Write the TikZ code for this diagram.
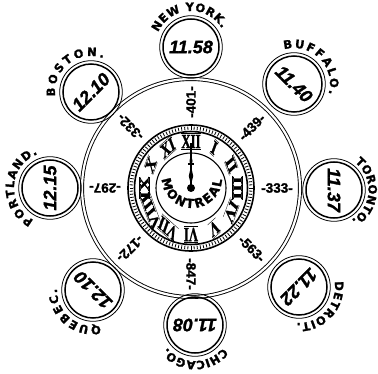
\documentclass[tikz,border=0pt]{standalone}
\usepackage{fontspec}
\setmainfont{Liberation Serif}
\setsansfont{Liberation Sans}
\newfontfamily\cityface{DejaVu Sans}[BoldFeatures={FakeBold=1.5}]
\newfontfamily\romface{Liberation Serif}[BoldFeatures={FakeBold=1.8}]
\newfontfamily\numface{Liberation Sans}[BoldFeatures={FakeBold=1.5}, BoldItalicFeatures={FakeBold=1.5}]
\usetikzlibrary{decorations.text}
\newcommand\timefnt{\numface\bfseries\itshape\fontsize{18}{18}\selectfont}
\newcommand\spokefnt{\numface\bfseries\fontsize{13.5}{13.5}\selectfont}
\newcommand\cityfnt{\cityface\bfseries\fontsize{11.5}{11.5}\selectfont}
\newcommand\romfnt{\romface\bfseries\fontsize{20}{20}\selectfont}
\newcommand\rn[1]{$\overline{\underline{\hbox{#1}}}$}
\begin{document}
\begin{tikzpicture}[x=1pt,y=1pt,
  sat/.style={circle, draw, line width=1.5pt, minimum size=56pt, inner sep=0pt, font=\timefnt},
  satouter/.style={line width=0.8pt},
  spoke/.style={font=\spokefnt, inner sep=0pt},
  numeral/.style={font=\romfnt, inner sep=0pt, xscale=0.64},
  city/.style={decorate, decoration={text along path, text align={fit to path},
    text={|\cityfnt|#1}}},
  montreal/.style={decorate, decoration={text along path, text align={fit to path},
    text={|\cityface\bfseries\fontsize{12.5}{12.5}\selectfont|#1}}}
]
\useasboundingbox (0,0) rectangle (378,373);
\coordinate (c) at (191,185);
\coordinate (mt) at (192,195);
% main double circle
\node[circle, draw, line width=0.9pt, double=white, double distance=2.2pt,
  minimum size=218pt, inner sep=0pt] (main) at (c) {};
% clock ring
\draw[line width=1.6pt] (c) circle[radius=63];
\draw[line width=1.6pt] (c) circle[radius=56.5];
\foreach \a in {0,3,...,357}
  \draw[line width=0.8pt] ([shift={(\a:58)}]c) -- ([shift={(\a:61.5)}]c);
\node[circle, draw, line width=1.1pt, minimum size=70pt, inner sep=0pt] (dial) at (c) {};
% numerals
\foreach \h/\n in {1/I,2/II,3/III,4/IV,5/V,6/VI,7/VII,8/VIII,9/IX,10/X,11/XI,12/XII}
  \node[numeral, rotate={-30*\h}] (r\h) at ([shift={({90-30*\h}:46.5)}]c) {\rn{\n}};
% hand
\coordinate (htop) at ([shift={(0,45)}]c);
\draw[line width=1.3pt] (c) -- (htop);
\fill ([shift={(0,3)}]c) -- ([shift={(2.2,12)}]c) -- ([shift={(0,22)}]c) -- ([shift={(-2.2,12)}]c) -- cycle;
\draw[line width=1.2pt] ([shift={(-3.2,24)}]c) -- ([shift={(3.2,24)}]c);
\fill ([shift={(0,27)}]c) ellipse[x radius=1.5, y radius=3.2];
\node[circle, fill, minimum size=8pt, inner sep=0pt] (hub) at (c) {};
% MONTREAL
\path[montreal=MONTREAL] ([shift={(182:30)}]mt) arc[start angle=182, end angle=357, radius=30];
% spoke distances
\node[spoke, rotate=90]   (d1) at ([shift={(90:86)}]c)   {-401-};
\node[spoke, rotate=45]   (d2) at ([shift={(45:86)}]c)   {-439-};
\node[spoke, rotate=0]    (d3) at ([shift={(0:86)}]c)    {-333-};
\node[spoke, rotate=-45]  (d4) at ([shift={(-45:86)}]c)  {-563-};
\node[spoke, rotate=-90]  (d5) at ([shift={(-90:86)}]c)  {-847-};
\node[spoke, rotate=-135] (d6) at ([shift={(-135:86)}]c) {-172-};
\node[spoke, rotate=180]  (d7) at ([shift={(180:86)}]c)  {-297-};
\node[spoke, rotate=135]  (d8) at ([shift={(135:86)}]c)  {-332-};
% satellites
\node[sat, rotate=0]    (ny)  at (191,326) {11.58};
\node[sat, rotate=-45]  (buf) at (294,289) {11.40};
\node[sat, rotate=-90]  (tor) at (334,183) {11.37};
\node[sat, rotate=-135] (det) at (299,86)  {11.22};
\node[sat, rotate=180]  (chi) at (195,48)  {11.08};
\node[sat, rotate=135]  (que) at (93,83)   {12.10};
\node[sat, rotate=90]   (por) at (50,185)  {12.15};
\node[sat, rotate=45]   (bos) at (91,281)  {12.10};
\foreach \s in {ny,buf,tor,det,chi,que,por,bos}
  \draw[satouter] (\s.center) circle[radius=31.3];
% city names
\path[city=NEW YORK.] ([shift={(156:36)}]ny.center) arc[start angle=156, end angle=31, radius=36];
\path[city=BUFFALO.] ([shift={(106:36)}]buf.center) arc[start angle=106, end angle=-16, radius=36];
\path[city=TORONTO.] ([shift={(53:34.5)}]tor.center) arc[start angle=53, end angle=-57, radius=34.5];
\path[city=DETROIT.] ([shift={(9:36)}]det.center) arc[start angle=9, end angle=-94, radius=36];
\path[city=CHICAGO.] ([shift={(-39:36)}]chi.center) arc[start angle=-39, end angle=-141, radius=36];
\path[city=QUEBEC.] ([shift={(-78:36)}]que.center) arc[start angle=-78, end angle=-182, radius=36];
\path[city=PORTLAND.] ([shift={(243:36)}]por.center) arc[start angle=243, end angle=110, radius=36];
\path[city=BOSTON.] ([shift={(187:36)}]bos.center) arc[start angle=187, end angle=70, radius=36];
\end{tikzpicture}
\end{document}
